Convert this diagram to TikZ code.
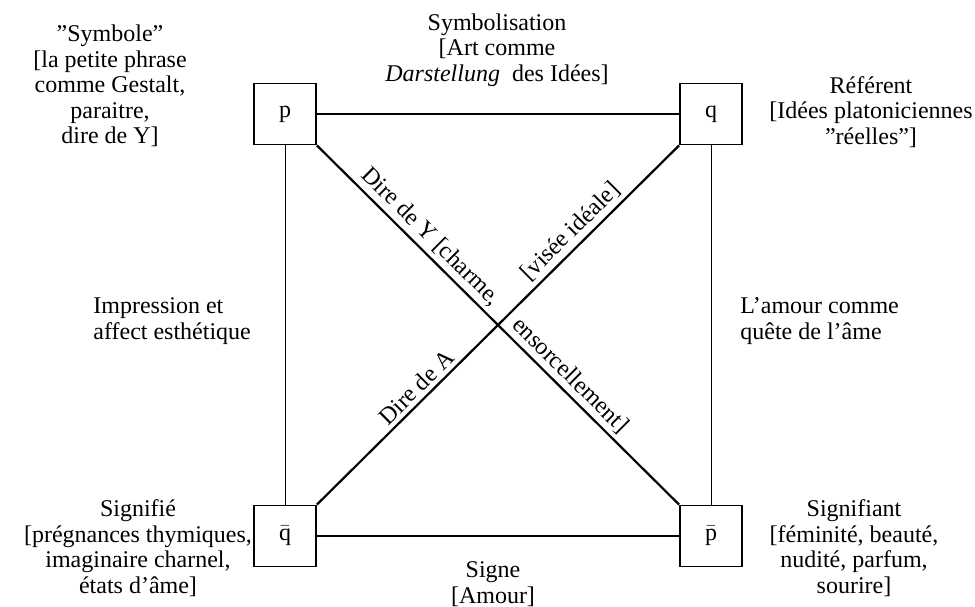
\documentclass[tikz,border=0pt]{standalone}
\usepackage{fontspec}
\setmainfont{Liberation Serif}
\usepackage{tikz}
\usetikzlibrary{positioning}
\newcommand{\barre}[1]{\ensuremath{\bar{\mbox{#1}}}}

\begin{document}
\begin{tikzpicture}[x=0.5pt, y=-0.5pt, font=\fontsize{12}{12.8}\selectfont,
        sommet/.style={draw, line width=0.9pt, minimum width=31pt, minimum height=30.5pt, inner sep=0pt},
        txt/.style={align=center, inner sep=0pt},
        cote/.style={line width=0.5pt},
        diag/.style={line width=1.1pt},
        lbl/.style={above, sloped, inner sep=2pt}]
        \useasboundingbox (0,0) rectangle (975,606);
        % les quatre sommets du carre
        \node[sommet] (p)    at (285,114) {p};
        \node[sommet] (q)    at (711,114) {q};
        \node[sommet] (qbar) at (285,536) {\barre{q}};
        \node[sommet] (pbar) at (711,536) {\barre{p}};
        % cotes
        \draw[cote, line width=1pt]   (p.east) -- (q.west);
        \draw[cote, line width=0.8pt] (qbar.east) -- (pbar.west);
        \draw[cote] (p.south) -- (qbar.north);
        \draw[cote] (q.south) -- (pbar.north);
        % diagonales
        \draw[diag] (p.south east) -- node[lbl, pos=0.285]{Dire de Y [charme,}
            node[lbl, pos=0.67]{ensorcellement]} (pbar.north west);
        \draw[diag] (qbar.north east) -- node[lbl, pos=0.30]{Dire de A}
            node[lbl, pos=0.73]{[visée idéale]} (q.south west);
        % textes
        \node[txt] (symb)  at (110,86)  {”Symbole”\\{[}la petite phrase\\comme Gestalt,\\paraitre,\\dire de Y]};
        \node[txt] (symbn) at (497,50)  {Symbolisation\\{[}Art comme\\\textit{Darstellung}\enspace des Idées]};
        \node[txt] (ref)   at (871,112) {Référent\\{[}Idées platoniciennes\\”réelles”]};
        \node[txt, align=left, anchor=west] (impr) at (93,321)  {Impression et\\affect esthétique};
        \node[txt, align=left, anchor=west] (amour) at (740,321) {L'amour comme\\quête de l'âme};
        \node[txt] (sgfe)  at (138,548) {Signifié\\{[}prégnances thymiques,\\imaginaire charnel,\\états d'âme]};
        \node[txt] (signe) at (493,584) {Signe\\{[}Amour]};
        \node[txt] (sgft)  at (854,548) {Signifiant\\{[}féminité, beauté,\\nudité, parfum,\\sourire]};
    \end{tikzpicture}
\end{document}
